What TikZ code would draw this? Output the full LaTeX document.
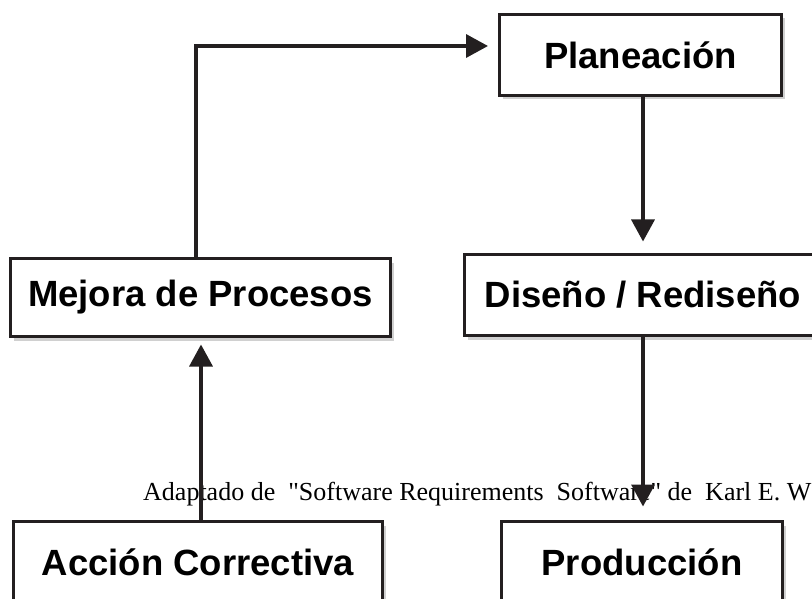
\documentclass[tikz,border=0pt]{standalone}
\usepackage{fontspec}
\setmainfont{Liberation Serif}[Ligatures=TeXOff]
\setsansfont{Liberation Sans}
\usetikzlibrary{arrows.meta,shadows}
\definecolor{ink}{HTML}{231F20}
\begin{document}
\begin{tikzpicture}[x=1pt,y=-1pt,
  box/.style={draw=ink, line width=3pt, fill=white, inner sep=0pt,
    font=\sffamily\bfseries\fontsize{36.5}{40}\selectfont,
    drop shadow={shadow xshift=3pt, shadow yshift=-4pt, opacity=0.3, fill=black!60}},
  arr/.style={draw=ink, line width=3.5pt, -{Triangle[length=22pt,width=23pt]}},
  conn/.style={draw=ink, line width=3.5pt}]
\useasboundingbox (0,0) rectangle (812,599);
\fill[white] (0,0) rectangle (812,599);
\node[anchor=base west, inner sep=0pt, font=\fontsize{26}{30}\selectfont] (cap) at (143,500)
  {Adaptado de\ \ "Software Requirements\ \ Software"\ de\ \ Karl E. W};
\node[box, minimum width=282pt, minimum height=81pt] (plan) at (640.5,55) {Planeación};
\node[box, minimum width=357pt, minimum height=81pt] (dis) at (643,295) {Diseño / Rediseño};
\node[box, minimum width=380pt, minimum height=78pt] (mej) at (200.5,297.5) {Mejora de Procesos};
\node[box, minimum width=369pt, minimum height=81pt] (acc) at (198,562) {Acción Correctiva};
\node[box, minimum width=281pt, minimum height=81pt] (prod) at (642,562) {Producción};
\coordinate (corner) at (196,46);
\draw[arr, shorten >=10pt] ([xshift=-4.5pt]mej.north) -- (corner) -- ([yshift=9pt]plan.west);
\draw[arr, shorten >=11.5pt] (plan.south -| dis.center) -- (dis.north);
\draw[arr, shorten >=13.5pt] (dis.south) -- (prod.north -| dis.center);
\draw[arr, shorten >=6.5pt] ([xshift=3pt]acc.north) -- ([xshift=3pt]acc.north |- mej.south);
\end{tikzpicture}
\end{document}
